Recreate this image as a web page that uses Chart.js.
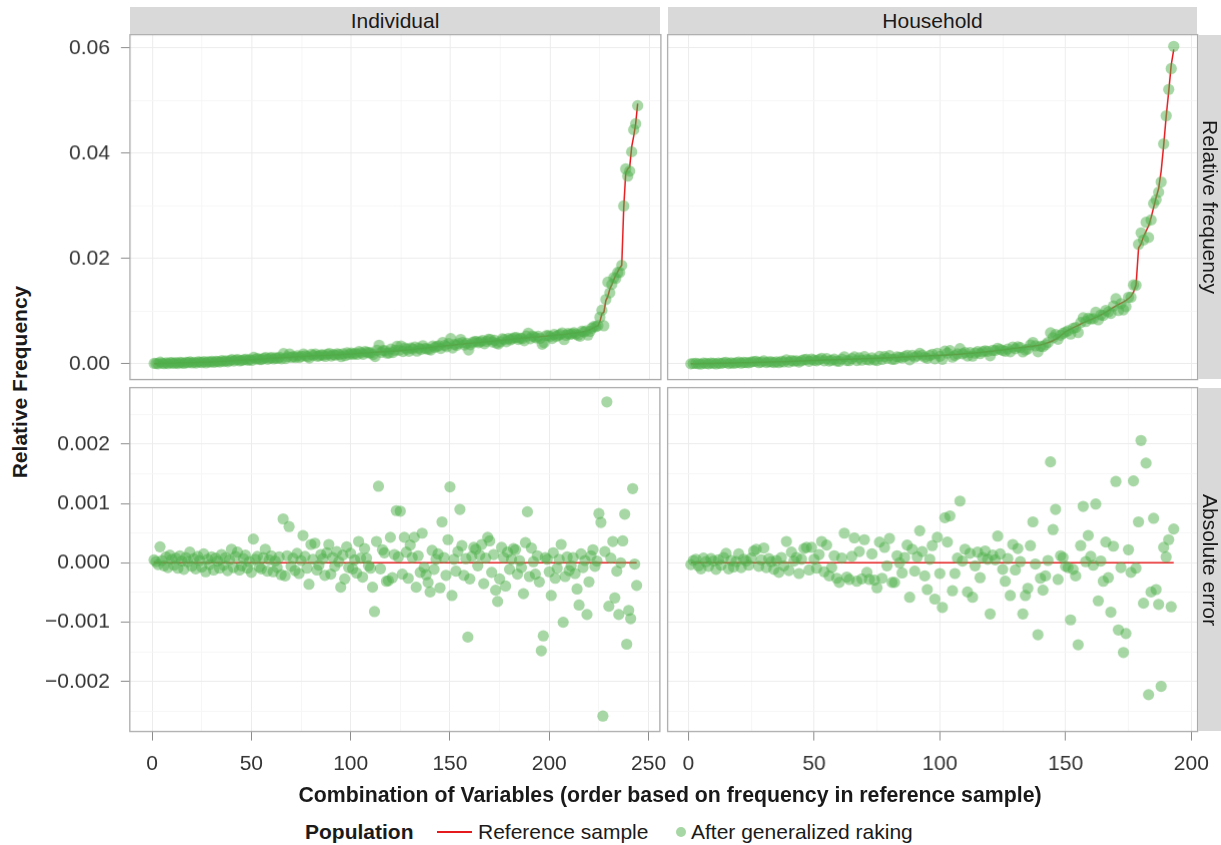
<!DOCTYPE html>
<html>
<head>
<meta charset="utf-8">
<title>Relative frequency and absolute error</title>
<script src="https://cdn.jsdelivr.net/npm/chart.js@4.4.1/dist/chart.umd.min.js"></script>
<style>
  html, body { margin: 0; padding: 0; background: #fff; }
  #fig { position: relative; width: 1221px; height: 845px; overflow: hidden;
         font-family: "Liberation Sans", Arial, Helvetica, sans-serif; color: #1a1a1a; }
  #fig canvas { position: absolute; }
  .strip { position: absolute; background: #d9d9d9; font-size: 21px; color: #1a1a1a;
           display: flex; align-items: center; justify-content: center; white-space: nowrap; }
  .strip.side { writing-mode: vertical-rl; }
  .title { position: absolute; font-size: 21px; font-weight: bold; white-space: nowrap; }
  .leg { position: absolute; font-size: 21px; white-space: nowrap; line-height: 24px; top: 820px; }
</style>
</head>
<body>
<div id="fig">
  <canvas id="indFreq"></canvas>
  <canvas id="hhFreq"></canvas>
  <canvas id="indErrC"></canvas>
  <canvas id="hhErrC"></canvas>

  <div class="strip" style="left:130px; top:7px; width:530px; height:27px;">Individual</div>
  <div class="strip" style="left:668px; top:7px; width:529px; height:27px;">Household</div>
  <div class="strip side" style="left:1198px; top:35px; width:23px; height:344px;">Relative frequency</div>
  <div class="strip side" style="left:1198px; top:388px; width:23px; height:343px;">Absolute error</div>

  <div class="title" style="left:20px; top:382px; transform: translate(-50%, -50%) rotate(-90deg);">Relative Frequency</div>
  <div class="title" style="left:670px; top:795px; transform: translate(-50%, -50%); font-size:21.3px;">Combination of Variables (order based on frequency in reference sample)</div>

  <div class="leg" style="left:305px; font-weight:bold;">Population</div>
  <div style="position:absolute; left:437px; top:831px; width:35px; height:2px; background:#e41a1c;"></div>
  <div class="leg" style="left:478px;">Reference sample</div>
  <div style="position:absolute; left:676px; top:827px; width:10px; height:10px; border-radius:50%; background:rgba(77,175,74,0.5);"></div>
  <div class="leg" style="left:691px;">After generalized raking</div>
</div>
<script>
// reference-sample relative frequency, Individual (244 combinations, sorted)
const indRef = [
  0.00003, 0.00004, 0.00004, 0.00006, 0.00007, 0.00007, 0.00008, 0.00010, 0.00011, 0.00011,
  0.00012, 0.00014, 0.00015, 0.00015, 0.00017, 0.00018, 0.00019, 0.00020, 0.00020, 0.00022,
  0.00023, 0.00025, 0.00026, 0.00028, 0.00029, 0.00030, 0.00032, 0.00033, 0.00035, 0.00036,
  0.00038, 0.00040, 0.00041, 0.00043, 0.00046, 0.00048, 0.00050, 0.00052, 0.00055, 0.00057,
  0.00060, 0.00062, 0.00064, 0.00067, 0.00069, 0.00071, 0.00074, 0.00076, 0.00078, 0.00080,
  0.00082, 0.00085, 0.00087, 0.00089, 0.00091, 0.00094, 0.00097, 0.00100, 0.00102, 0.00105,
  0.00107, 0.00109, 0.00111, 0.00114, 0.00116, 0.00119, 0.00121, 0.00123, 0.00126, 0.00128,
  0.00130, 0.00132, 0.00135, 0.00137, 0.00139, 0.00141, 0.00143, 0.00145, 0.00146, 0.00148,
  0.00150, 0.00152, 0.00154, 0.00155, 0.00157, 0.00159, 0.00161, 0.00163, 0.00165, 0.00167,
  0.00168, 0.00170, 0.00172, 0.00174, 0.00176, 0.00179, 0.00181, 0.00184, 0.00186, 0.00189,
  0.00191, 0.00194, 0.00196, 0.00199, 0.00202, 0.00204, 0.00207, 0.00210, 0.00213, 0.00216,
  0.00218, 0.00220, 0.00222, 0.00225, 0.00227, 0.00229, 0.00231, 0.00233, 0.00235, 0.00238,
  0.00240, 0.00242, 0.00245, 0.00247, 0.00250, 0.00253, 0.00257, 0.00261, 0.00265, 0.00269,
  0.00273, 0.00277, 0.00281, 0.00286, 0.00290, 0.00295, 0.00299, 0.00304, 0.00308, 0.00312,
  0.00316, 0.00320, 0.00324, 0.00328, 0.00332, 0.00336, 0.00340, 0.00344, 0.00348, 0.00352,
  0.00356, 0.00360, 0.00364, 0.00368, 0.00372, 0.00375, 0.00379, 0.00383, 0.00386, 0.00390,
  0.00394, 0.00397, 0.00400, 0.00404, 0.00407, 0.00411, 0.00415, 0.00418, 0.00422, 0.00426,
  0.00430, 0.00434, 0.00438, 0.00442, 0.00446, 0.00449, 0.00453, 0.00457, 0.00461, 0.00466,
  0.00470, 0.00473, 0.00476, 0.00480, 0.00483, 0.00487, 0.00490, 0.00493, 0.00497, 0.00500,
  0.00503, 0.00506, 0.00509, 0.00512, 0.00515, 0.00519, 0.00523, 0.00526, 0.00530, 0.00533,
  0.00536, 0.00540, 0.00544, 0.00548, 0.00552, 0.00556, 0.00560, 0.00564, 0.00568, 0.00572,
  0.00576, 0.00581, 0.00585, 0.00590, 0.00595, 0.00603, 0.00612, 0.00620, 0.00633, 0.00648,
  0.00665, 0.00686, 0.00710, 0.00720, 0.00800, 0.00950, 0.00980, 0.01200, 0.01280, 0.01420,
  0.01500, 0.01600, 0.01680, 0.01750, 0.01820, 0.01870, 0.02960, 0.03620, 0.03700, 0.03740,
  0.04120, 0.04320, 0.04560, 0.04940
];

// absolute error after generalized raking (raked - reference), Individual
const indErr = [
  0.00005, 0.00002, -0.00003, 0.00027, 0.00004, -0.00005, 0.00010, -0.00008, 0.00013, 0.00006,
  -0.00004, 0.00008, -0.00009, 0.00012, 0.00003, -0.00011, 0.00009, 0.00002, 0.00018, -0.00006,
  0.00007, -0.00010, 0.00011, 0.00004, -0.00007, 0.00015, -0.00015, 0.00006, -0.00003, 0.00010,
  -0.00012, 0.00008, 0.00003, -0.00009, 0.00014, -0.00004, 0.00009, -0.00013, 0.00005, 0.00023,
  -0.00008, 0.00011, 0.00018, -0.00012, -0.00005, 0.00007, 0.00013, -0.00009, 0.00002, -0.00016,
  0.00040, 0.00006, 0.00011, -0.00007, -0.00010, 0.00009, 0.00023, -0.00014, 0.00005, 0.00012,
  -0.00015, 0.00003, -0.00008, 0.00010, -0.00020, 0.00074, -0.00022, 0.00012, 0.00061, -0.00006,
  0.00008, -0.00013, 0.00016, -0.00018, 0.00004, 0.00046, 0.00011, -0.00009, -0.00036, 0.00031,
  0.00006, 0.00033, -0.00012, -0.00004, 0.00014, 0.00007, -0.00021, 0.00017, 0.00031, -0.00019,
  0.00009, -0.00006, 0.00019, 0.00002, -0.00041, 0.00013, -0.00027, 0.00027, -0.00008, 0.00016,
  -0.00010, 0.00005, -0.00017, 0.00036, 0.00008, -0.00024, 0.00024, 0.00008, -0.00005, -0.00009,
  -0.00041, -0.00082, 0.00036, 0.00129, -0.00010, 0.00022, 0.00017, -0.00031, -0.00030, 0.00043,
  -0.00025, 0.00014, 0.00088, 0.00010, 0.00087, -0.00019, 0.00043, 0.00018, -0.00026, 0.00030,
  0.00009, 0.00043, -0.00041, 0.00012, -0.00016, 0.00050, -0.00008, -0.00020, -0.00033, -0.00049,
  0.00021, -0.00011, 0.00006, 0.00015, -0.00042, 0.00069, 0.00009, -0.00021, 0.00039, 0.00128,
  -0.00055, 0.00006, -0.00014, 0.00019, 0.00090, 0.00029, -0.00021, 0.00007, -0.00125, -0.00027,
  0.00011, 0.00026, 0.00023, -0.00005, 0.00013, 0.00031, -0.00035, 0.00008, 0.00043, 0.00037,
  -0.00016, 0.00014, -0.00046, -0.00065, -0.00027, 0.00026, 0.00009, -0.00039, 0.00018, -0.00011,
  0.00006, 0.00024, 0.00022, -0.00019, 0.00004, -0.00008, -0.00052, 0.00034, 0.00086, -0.00023,
  0.00025, 0.00002, -0.00019, 0.00012, -0.00032, -0.00148, -0.00123, 0.00009, 0.00006, -0.00015,
  -0.00055, 0.00017, -0.00026, -0.00009, 0.00006, 0.00031, -0.00100, -0.00023, 0.00010, -0.00013,
  -0.00005, 0.00009, -0.00018, -0.00044, -0.00071, 0.00015, -0.00008, 0.00004, -0.00087, -0.00032,
  0.00012, 0.00022, -0.00006, 0.00003, 0.00083, 0.00068, -0.00258, 0.00019, 0.00271, -0.00073,
  0.00008, 0.00036, -0.00059, -0.00014, -0.00087, 0.00000, 0.00037, 0.00082, -0.00137, -0.00080,
  -0.00094, 0.00125, -0.00002, -0.00038
];

// reference-sample relative frequency, Household (193 combinations, sorted)
const hhRef = [
  0.00002, 0.00003, 0.00003, 0.00004, 0.00005, 0.00005, 0.00006, 0.00007, 0.00008, 0.00008,
  0.00009, 0.00010, 0.00011, 0.00012, 0.00013, 0.00014, 0.00015, 0.00016, 0.00018, 0.00019,
  0.00020, 0.00021, 0.00022, 0.00023, 0.00024, 0.00025, 0.00026, 0.00028, 0.00029, 0.00030,
  0.00031, 0.00033, 0.00034, 0.00035, 0.00036, 0.00038, 0.00039, 0.00041, 0.00042, 0.00044,
  0.00046, 0.00048, 0.00050, 0.00052, 0.00054, 0.00056, 0.00058, 0.00060, 0.00062, 0.00064,
  0.00066, 0.00068, 0.00069, 0.00071, 0.00072, 0.00074, 0.00076, 0.00077, 0.00079, 0.00081,
  0.00082, 0.00084, 0.00086, 0.00087, 0.00089, 0.00091, 0.00092, 0.00094, 0.00095, 0.00097,
  0.00098, 0.00100, 0.00101, 0.00103, 0.00105, 0.00107, 0.00109, 0.00111, 0.00113, 0.00116,
  0.00118, 0.00120, 0.00123, 0.00125, 0.00128, 0.00130, 0.00132, 0.00135, 0.00138, 0.00140,
  0.00142, 0.00144, 0.00146, 0.00148, 0.00150, 0.00152, 0.00154, 0.00156, 0.00158, 0.00160,
  0.00162, 0.00165, 0.00168, 0.00171, 0.00174, 0.00177, 0.00180, 0.00184, 0.00188, 0.00192,
  0.00196, 0.00200, 0.00204, 0.00208, 0.00213, 0.00218, 0.00222, 0.00227, 0.00232, 0.00237,
  0.00242, 0.00247, 0.00252, 0.00258, 0.00264, 0.00270, 0.00276, 0.00283, 0.00290, 0.00297,
  0.00300, 0.00306, 0.00312, 0.00318, 0.00324, 0.00330, 0.00336, 0.00343, 0.00350, 0.00360,
  0.00372, 0.00386, 0.00402, 0.00420, 0.00440, 0.00465, 0.00495, 0.00530, 0.00570, 0.00610,
  0.00635, 0.00660, 0.00685, 0.00710, 0.00730, 0.00755, 0.00780, 0.00800, 0.00820, 0.00840,
  0.00860, 0.00880, 0.00900, 0.00925, 0.00950, 0.00980, 0.01010, 0.01040, 0.01070, 0.01100,
  0.01125, 0.01150, 0.01175, 0.01205, 0.01240, 0.01280, 0.01360, 0.01500, 0.02200, 0.02280,
  0.02420, 0.02520, 0.02620, 0.02780, 0.02970, 0.03160, 0.03330, 0.03660, 0.04150, 0.04700,
  0.05170, 0.05680, 0.05970
];

// absolute error after generalized raking, Household
const hhErr = [
  -0.00003, 0.00004, 0.00006, -0.00005, -0.00010, 0.00008, 0.00002, -0.00006, 0.00007, 0.00003,
  -0.00011, 0.00005, -0.00004, 0.00009, 0.00016, -0.00010, 0.00004, -0.00007, 0.00002, 0.00015,
  -0.00008, 0.00006, 0.00003, -0.00004, 0.00008, 0.00020, 0.00023, -0.00006, 0.00005, 0.00025,
  -0.00008, 0.00007, 0.00002, -0.00011, 0.00004, -0.00016, 0.00009, -0.00005, 0.00036, -0.00013,
  0.00018, 0.00003, 0.00009, -0.00018, 0.00006, 0.00024, 0.00026, -0.00012, 0.00026, 0.00006,
  -0.00009, 0.00014, 0.00036, -0.00015, 0.00030, -0.00022, -0.00008, 0.00012, -0.00026, -0.00033,
  0.00008, 0.00050, -0.00024, -0.00028, 0.00011, 0.00042, -0.00031, 0.00019, -0.00027, 0.00039,
  -0.00016, -0.00028, 0.00015, -0.00029, -0.00042, 0.00035, -0.00026, 0.00026, -0.00005, 0.00041,
  -0.00033, -0.00033, 0.00012, 0.00000, -0.00017, 0.00009, 0.00030, -0.00058, 0.00023, -0.00014,
  0.00010, 0.00054, 0.00019, -0.00022, -0.00045, 0.00006, 0.00029, -0.00061, 0.00043, -0.00018,
  -0.00075, 0.00076, 0.00035, 0.00079, -0.00047, -0.00018, 0.00008, 0.00104, 0.00003, 0.00023,
  -0.00049, 0.00016, -0.00058, -0.00005, 0.00018, -0.00025, 0.00009, 0.00020, 0.00006, -0.00086,
  0.00013, 0.00005, 0.00045, 0.00015, -0.00011, -0.00031, 0.00007, -0.00055, 0.00031, -0.00012,
  0.00024, 0.00002, -0.00086, -0.00055, -0.00043, 0.00029, 0.00069, -0.00002, -0.00121, -0.00026,
  -0.00046, -0.00022, 0.00004, 0.00170, 0.00056, 0.00090, -0.00028, 0.00012, 0.00009, -0.00006,
  -0.00008, -0.00096, -0.00011, -0.00022, -0.00138, 0.00029, 0.00095, 0.00002, 0.00046, 0.00011,
  -0.00004, 0.00099, -0.00064, 0.00003, -0.00031, 0.00035, -0.00025, -0.00083, 0.00028, 0.00137,
  -0.00113, -0.00008, -0.00151, -0.00119, 0.00022, -0.00016, 0.00138, -0.00009, 0.00069, 0.00206,
  -0.00068, 0.00168, -0.00222, -0.00049, 0.00075, -0.00045, -0.00070, -0.00208, 0.00026, 0.00010,
  0.00039, -0.00074, 0.00057
];

// axis breaks
const indXTicks = [0, 50, 100, 150, 200, 250];
const indXLabels = ['0', '50', '100', '150', '200', '250'];
const indXMinor = [25, 75, 125, 175, 225];
const hhXTicks = [0, 50, 100, 150, 200];
const hhXLabels = ['0', '50', '100', '150', '200'];
const hhXMinor = [25, 75, 125, 175];
const freqTicks = [0, 0.02, 0.04, 0.06];
const freqLabels = ['0.00', '0.02', '0.04', '0.06'];
const freqMinor = [0.01, 0.03, 0.05];
const errTicks = [-0.002, -0.001, 0, 0.001, 0.002];
const errLabels = ['\u22120.002', '\u22120.001', '0.000', '0.001', '0.002'];
const errMinor = [-0.0025, -0.0015, -0.0005, 0.0005, 0.0015, 0.0025];

Chart.defaults.font.family = '"Liberation Sans", Arial, Helvetica, sans-serif';
Chart.defaults.font.size = 21;
Chart.defaults.color = '#333333';

const RED = '#e41a1c';
const GREEN = 'rgba(77, 175, 74, 0.5)';

const panelBorder = {
  id: 'panelBorder',
  afterDatasetsDraw(chart) {
    const { ctx, chartArea: a } = chart;
    ctx.save();
    ctx.strokeStyle = '#ababab';
    ctx.lineWidth = 1.3;
    ctx.strokeRect(a.left, a.top, a.right - a.left, a.bottom - a.top);
    ctx.restore();
  }
};

function buildTicks(major, minor) {
  return major.map(v => ({ value: v, minor: false }))
    .concat(minor.map(v => ({ value: v, minor: true })))
    .sort((a, b) => a.value - b.value);
}

function axis(min, max, major, labels, minor, showLabels) {
  return {
    type: 'linear',
    min: min,
    max: max,
    afterBuildTicks: s => { s.ticks = buildTicks(major, minor); },
    border: { display: false },
    grid: {
      color: c => (c.tick && c.tick.minor) ? '#f6f6f6' : '#ececec',
      tickColor: c => (c.tick && c.tick.minor) ? 'rgba(0,0,0,0)' : '#8c8c8c',
      drawTicks: showLabels,
      tickLength: 9,
      lineWidth: 1
    },
    ticks: {
      display: showLabels,
      autoSkip: false,
      maxRotation: 0,
      padding: 11,
      color: '#333333',
      callback: (v, i, t) => t[i].minor ? '' : labels[major.indexOf(v)]
    }
  };
}

function toPoints(arr) {
  return arr.map((v, k) => ({ x: k + 1, y: v }));
}

function makeConfig(refLine, dots, xAxis, yAxis) {
  return {
    type: 'scatter',
    data: {
      datasets: [
        {
          label: 'After generalized raking',
          data: toPoints(dots),
          pointRadius: 5.6,
          pointBackgroundColor: GREEN,
          pointBorderWidth: 0,
          pointHoverRadius: 5.6,
          order: 0
        },
        {
          label: 'Reference sample',
          data: toPoints(refLine),
          showLine: true,
          borderColor: RED,
          borderWidth: 1.5,
          pointRadius: 0,
          order: 1
        }
      ]
    },
    options: {
      responsive: false,
      maintainAspectRatio: false,
      animation: false,
      events: [],
      layout: { padding: 0 },
      plugins: { legend: { display: false }, tooltip: { enabled: false } },
      scales: { x: xAxis, y: yAxis }
    },
    plugins: [panelBorder]
  };
}

// line up each chart's plotting area with its panel
function placeChart(id, rect, config) {
  const canvas = document.getElementById(id);
  canvas.width = rect.w + 160;
  canvas.height = rect.h + 80;
  const chart = new Chart(canvas, config);
  for (let pass = 0; pass < 2; pass++) {
    const a = chart.chartArea;
    const left = a.left, top = a.top;
    const right = chart.width - a.right, bottom = chart.height - a.bottom;
    canvas.style.left = (rect.x - left) + 'px';
    canvas.style.top = (rect.y - top) + 'px';
    chart.resize(rect.w + left + right, rect.h + top + bottom);
  }
  return chart;
}

const indRaked = indRef.map((v, k) => v + indErr[k]);
const hhRaked = hhRef.map((v, k) => v + hhErr[k]);
const indZero = indRef.map(v => v - v);
const hhZero = hhRef.map(v => v - v);

const indX = (show) => axis(-11.2, 255.7, indXTicks, indXLabels, indXMinor, show);
const hhX = (show) => axis(-8.25, 202.5, hhXTicks, hhXLabels, hhXMinor, show);
const freqY = (show) => axis(-0.003, 0.0625, freqTicks, freqLabels, freqMinor, show);
const errY = (show) => axis(-0.00284, 0.00295, errTicks, errLabels, errMinor, show);

placeChart('indFreq', { x: 130, y: 35, w: 530, h: 344 },
  makeConfig(indRef, indRaked, indX(false), freqY(true)));
placeChart('hhFreq', { x: 668, y: 35, w: 529, h: 344 },
  makeConfig(hhRef, hhRaked, hhX(false), freqY(false)));
placeChart('indErrC', { x: 130, y: 388, w: 530, h: 343 },
  makeConfig(indZero, indErr, indX(true), errY(true)));
placeChart('hhErrC', { x: 668, y: 388, w: 529, h: 343 },
  makeConfig(hhZero, hhErr, hhX(true), errY(false)));
</script>
</body>
</html>
